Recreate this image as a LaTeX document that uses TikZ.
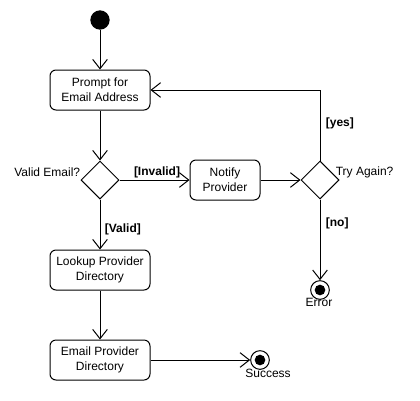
\documentclass[tikz,border=0pt]{standalone}
\usepackage{fontspec}
\setmainfont{Liberation Sans}
\usetikzlibrary{shapes.geometric,arrows.meta}
\begin{document}
\begin{tikzpicture}[x=0.75pt,y=-0.75pt,line width=0.75pt,
    font=\fontsize{9}{11.25}\selectfont,
    action/.style={draw,rounded corners=4.5pt,minimum width=75pt,minimum height=30pt,align=center,inner sep=1pt},
    decision/.style={draw,diamond,minimum width=28.5pt,minimum height=28.5pt,inner sep=0pt},
    final/.style={draw,circle,minimum size=14pt,inner sep=0pt,
        path picture={\fill (path picture bounding box.center) circle (4pt);}},
    label/.style={inner sep=1pt},
    guard/.style={inner sep=1pt,font=\fontsize{9}{11.25}\selectfont\bfseries}]
    \tikzset{>={Straight Barb[length=7pt,width=11pt]}}
    \useasboundingbox (0,0) rectangle (420,400);
    \node[circle,fill,minimum size=14.5pt,inner sep=0pt] (start) at (100,20) {};
    \node[action] (prompt) at (100,90) {Prompt for\\Email Address};
    \node[decision] (valid) at (100,180) {};
    \node[action,minimum width=52.5pt] (notify) at (225,180) {Notify\\Provider};
    \node[decision] (again) at (320,180) {};
    \node[action] (lookup) at (100,270) {Lookup Provider\\Directory};
    \node[action] (send) at (100,360) {Email Provider\\Directory};
    \node[final] (error) at (320,290) {};
    \node[final] (success) at (260,360) {};
    % labels
    \node[label,anchor=east] (validq) at (82,172) {Valid Email?};
    \node[label,anchor=west] (againq) at (334,172) {Try Again?};
    \node[label] (errorlbl) at (319,302) {Error};
    \node[label] (successlbl) at (268,373) {Success};
    \node[guard] (invalid) at (157,172) {[Invalid]};
    \node[guard,anchor=west] (yes) at (324,123) {[yes]};
    \node[guard,anchor=west] (no) at (324,223) {[no]};
    \node[guard,anchor=west] (validg) at (103,229) {[Valid]};
    % flows
    \draw[->] (start) -- (prompt);
    \draw[->] (prompt) -- (valid);
    \draw[->] (valid) -- (notify);
    \draw[->] (notify) -- (again);
    \draw[->] (again.north) |- (prompt.east);
    \draw[->] (again) -- (error);
    \draw[->] (valid) -- (lookup);
    \draw[->] (lookup) -- (send);
    \draw[->] (send) -- (success);
\end{tikzpicture}
\end{document}
